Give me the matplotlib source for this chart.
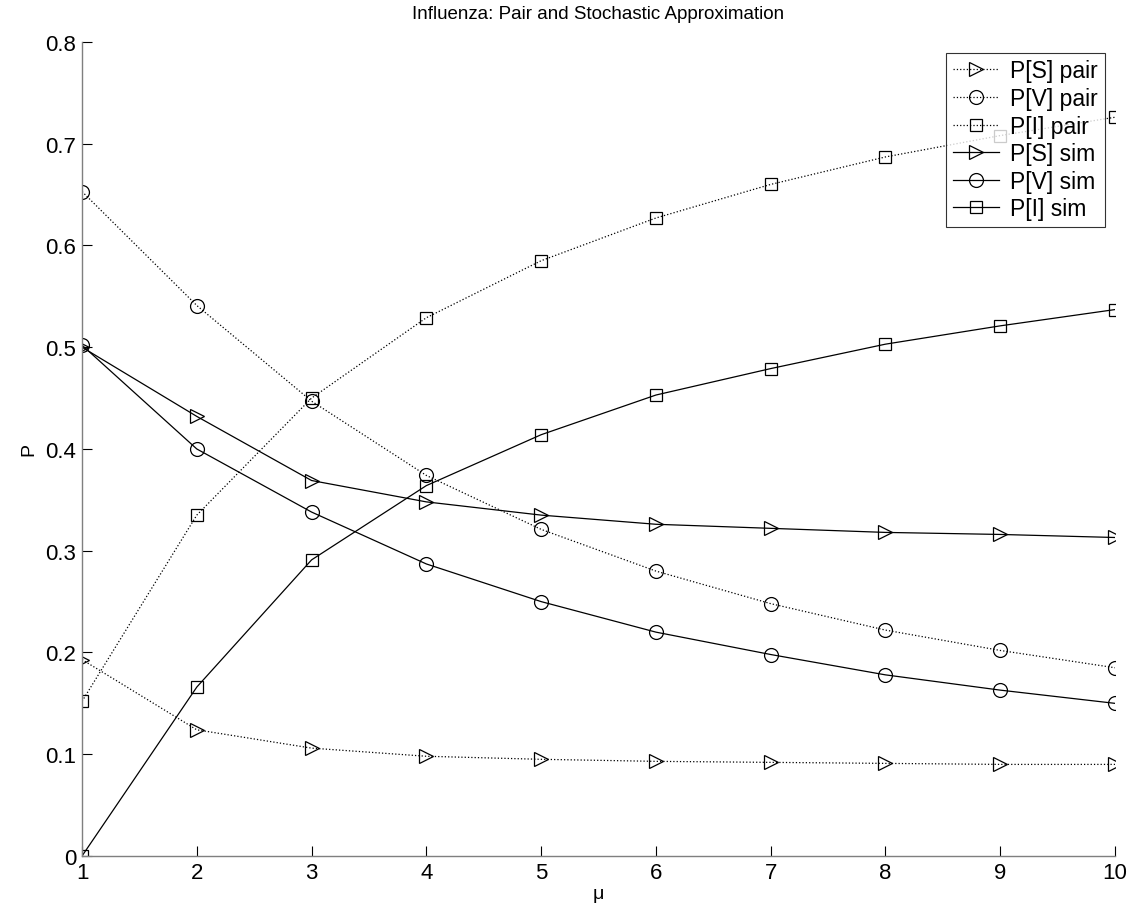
import matplotlib
matplotlib.use("Agg")
import matplotlib.pyplot as plt

plt.rcParams['font.family'] = ['Liberation Sans', 'DejaVu Sans']

mu = [1, 2, 3, 4, 5, 6, 7, 8, 9, 10]

ps_pair = [0.193, 0.124, 0.106, 0.098, 0.095, 0.093, 0.092, 0.091, 0.090, 0.090]
pv_pair = [0.653, 0.541, 0.447, 0.374, 0.321, 0.280, 0.248, 0.222, 0.202, 0.185]
pi_pair = [0.152, 0.335, 0.450, 0.529, 0.585, 0.627, 0.660, 0.687, 0.708, 0.726]

ps_sim = [0.500, 0.432, 0.369, 0.348, 0.335, 0.326, 0.322, 0.318, 0.316, 0.313]
pv_sim = [0.502, 0.400, 0.338, 0.287, 0.250, 0.220, 0.198, 0.178, 0.163, 0.150]
pi_sim = [0.000, 0.166, 0.291, 0.364, 0.414, 0.453, 0.479, 0.503, 0.521, 0.537]

x_ticks = [1, 2, 3, 4, 5, 6, 7, 8, 9, 10]
y_ticks = [0, 0.1, 0.2, 0.3, 0.4, 0.5, 0.6, 0.7, 0.8]
y_tick_labels = ['0', '0.1', '0.2', '0.3', '0.4', '0.5', '0.6', '0.7', '0.8']

fig = plt.figure(figsize=(11.33, 9.2), dpi=100)
ax = fig.add_axes([0.0724, 0.0685, 0.9117, 0.8848])

mk = dict(color='black', markerfacecolor='none', markeredgecolor='black',
          markersize=10, markeredgewidth=0.9)
ax.plot(mu, ps_pair, linestyle=':', marker='>', linewidth=0.9, label='P[S] pair', **mk)
ax.plot(mu, pv_pair, linestyle=':', marker='o', linewidth=0.9, label='P[V] pair', **mk)
ax.plot(mu, pi_pair, linestyle=':', marker='s', linewidth=0.9, label='P[I] pair',
        **{**mk, 'markersize': 8})
ax.plot(mu, ps_sim, linestyle='-', marker='>', linewidth=0.9, label='P[S] sim', **mk)
ax.plot(mu, pv_sim, linestyle='-', marker='o', linewidth=0.9, label='P[V] sim', **mk)
ax.plot(mu, pi_sim, linestyle='-', marker='s', linewidth=0.9, label='P[I] sim',
        **{**mk, 'markersize': 8})

ax.set_xlim(1, 10)
ax.set_ylim(0, 0.8)
ax.set_xticks(x_ticks)
ax.set_xticklabels([str(t) for t in x_ticks])
ax.set_yticks(y_ticks)
ax.set_yticklabels(y_tick_labels)

for side in ('top', 'right'):
    ax.spines[side].set_visible(False)
for side in ('left', 'bottom'):
    ax.spines[side].set_color('#7f7f7f')
    ax.spines[side].set_linewidth(1.0)

ax.tick_params(direction='in', length=7, width=0.8, color='black',
               labelsize=16, pad=4)

ax.set_xlabel('μ', fontsize=14, labelpad=2)
ax.set_ylabel('P', fontsize=14, labelpad=6)
ax.set_title('Influenza: Pair and Stochastic Approximation', fontsize=13.5, pad=17)

leg = ax.legend(loc='upper right', bbox_to_anchor=(0.99, 0.987), fontsize=16.5,
                frameon=True, fancybox=False, edgecolor='black',
                handlelength=2.0, handletextpad=0.5, labelspacing=0.2,
                borderpad=0.3, borderaxespad=0.0)
leg.get_frame().set_linewidth(0.8)

fig.savefig('out.png', dpi=100)
